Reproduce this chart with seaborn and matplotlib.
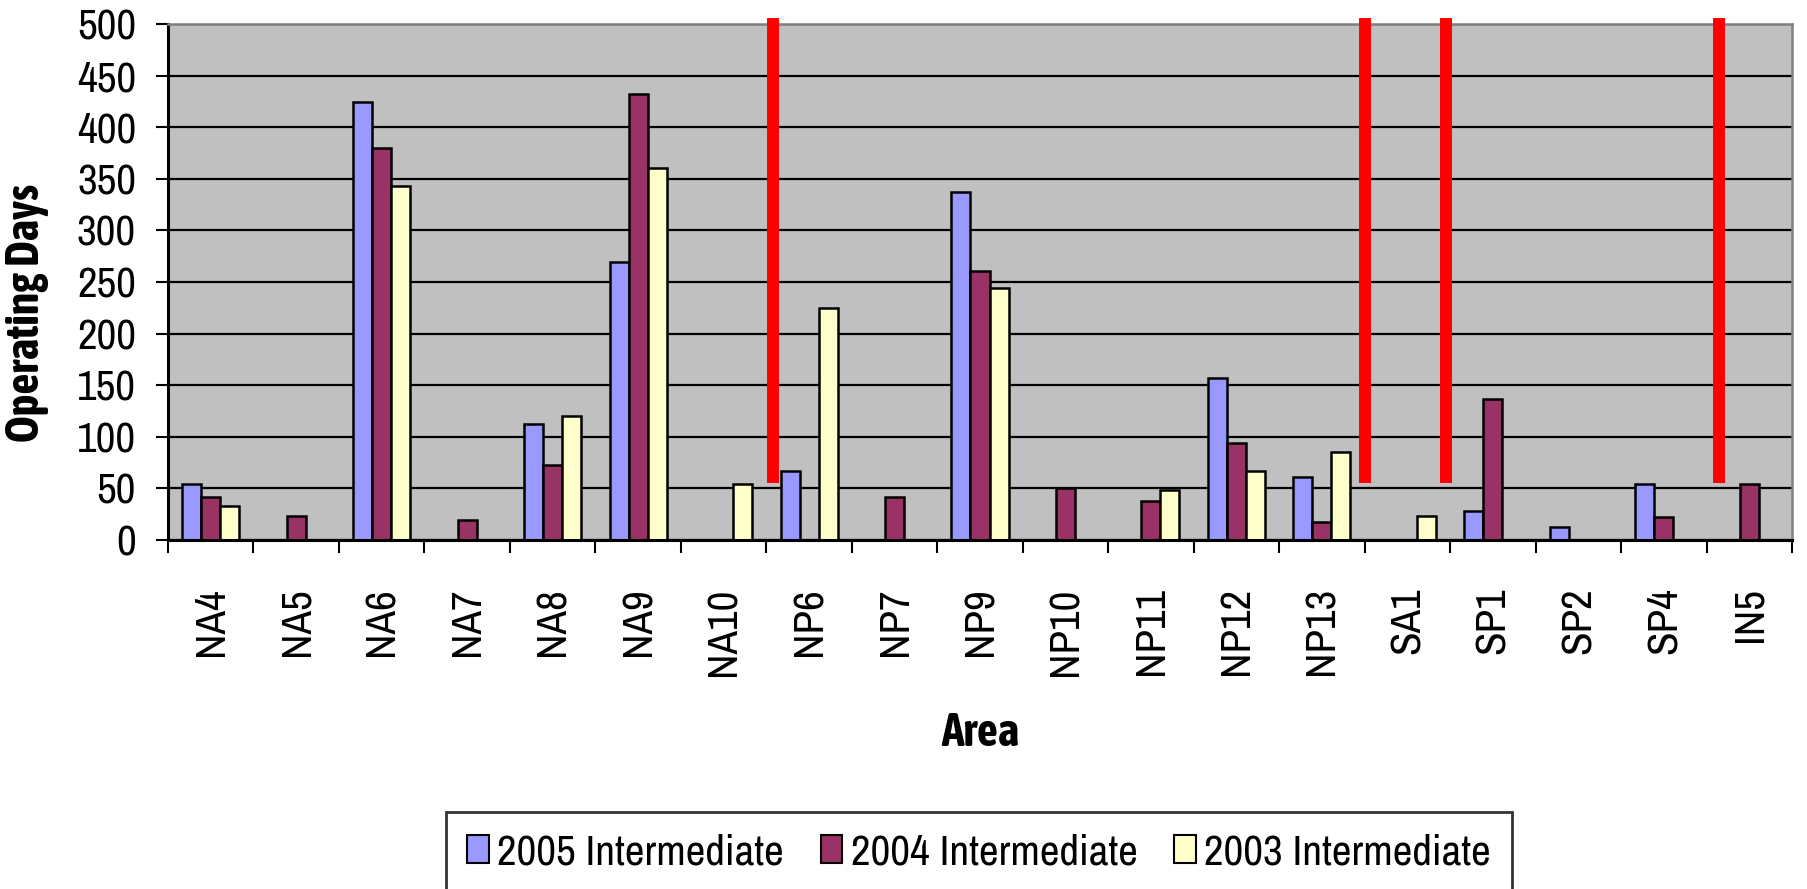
import numpy as np
import pandas as pd
import matplotlib
matplotlib.use("Agg")
import matplotlib.pyplot as plt
from matplotlib import font_manager as fm
from matplotlib.patches import Patch
import seaborn as sns

nan = np.nan
areas = ['NA4', 'NA5', 'NA6', 'NA7', 'NA8', 'NA9', 'NA10', 'NP6', 'NP7', 'NP9',
         'NP10', 'NP11', 'NP12', 'NP13', 'SA1', 'SP1', 'SP2', 'SP4', 'IN5']
series_names = ['2005 Intermediate', '2004 Intermediate', '2003 Intermediate']
days_2005 = [54, nan, 424, nan, 112, 269, nan, 67, nan, 337, nan, nan, 157, 61, nan, 28, 13, 54, nan]
days_2004 = [42, 23, 380, 19, 73, 432, nan, nan, 42, 261, 50, 38, 94, 17, nan, 137, nan, 22, 54]
days_2003 = [33, nan, 343, nan, 120, 360, 54, 225, nan, 244, nan, 48, 67, 85, 23, nan, nan, nan, nan]
colors = ['#9999FF', '#993366', '#FFFFCC']
dividers = [6.58, 13.51, 14.45, 17.65]
divider_span = [55, 506]

rows = []
for name, vals in zip(series_names, [days_2005, days_2004, days_2003]):
    for a, v in zip(areas, vals):
        if not np.isnan(v):
            rows.append({'Area': a, 'Days': v, 'Series': name})
df = pd.DataFrame(rows)


def weight_num(w):
    try:
        return int(w)
    except (TypeError, ValueError):
        return {'bold': 700, 'heavy': 800, 'black': 900, 'semibold': 600,
                'demibold': 600, 'extra bold': 800}.get(str(w).lower(), 400)


narrow_fams = {}
for f in fm.fontManager.ttflist:
    if 'Narrow' in f.name or 'Condensed' in f.name:
        narrow_fams.setdefault(f.name, set()).add(weight_num(f.weight))

narrow = None
narrow_bold = None
bold_w = 700
for name, ws in sorted(narrow_fams.items()):
    if narrow is None and 400 in ws:
        narrow = name
for name, ws in sorted(narrow_fams.items()):
    good = [w for w in ws if 600 <= w <= 750]
    if good:
        narrow_bold = name
        bold_w = max(good)
        break

if narrow is not None:
    text_fam = [narrow, 'DejaVu Sans']
    fs = 31
else:
    text_fam = ['Liberation Sans', 'DejaVu Sans']
    fs = 26
if narrow_bold is not None:
    bold_fam = [narrow_bold, 'DejaVu Sans']
    fsb = 33
else:
    bold_fam = ['Liberation Sans', 'DejaVu Sans']
    fsb = 28
    bold_w = 'bold'
plt.rcParams['font.family'] = text_fam

W, H = 1807, 889
fig = plt.figure(figsize=(W / 100, H / 100), dpi=100)
L, R, T, B = 168, 1792, 24, 540
ax = fig.add_axes([L / W, 1 - B / H, (R - L) / W, (B - T) / H])
ax.set_facecolor('#C0C0C0')

sns.barplot(data=df, x='Area', y='Days', hue='Series', order=areas, hue_order=series_names,
            palette=dict(zip(series_names, colors)), width=0.667, edgecolor='black',
            linewidth=1.8, saturation=1, errorbar=None, legend=False, ax=ax)

ax.set_xlim(-0.5, len(areas) - 0.5)
ax.set_ylim(0, 500)
ax.set_yticks(np.arange(0, 501, 50))
ax.yaxis.grid(True, color='black', linewidth=1.6)
ax.set_axisbelow(True)

ax.set_xticks(np.arange(-0.5, len(areas) + 0.5, 1))
ax.set_xticklabels([])
ax.set_xticks(np.arange(len(areas)), minor=True)
ax.set_xticklabels(areas, minor=True, rotation=90, fontsize=fs)
ax.tick_params(axis='x', which='major', length=9, width=1.5, direction='out')
ax.tick_params(axis='x', which='minor', length=0, pad=34)
ax.tick_params(axis='y', length=9, width=1.5, labelsize=fs, pad=14)

for s in ['left', 'bottom']:
    ax.spines[s].set_color('black')
    ax.spines[s].set_linewidth(2.2)
for s in ['top', 'right']:
    ax.spines[s].set_color('#808080')
    ax.spines[s].set_linewidth(1.8)

for xd in dividers:
    ax.plot([xd, xd], divider_span, color='#FF0000', linewidth=8.6,
            solid_capstyle='butt', clip_on=False, zorder=5)

ax.set_xlabel('')
ax.set_ylabel('Operating Days', fontsize=fsb, fontweight=bold_w, family=bold_fam)
ax.yaxis.set_label_coords(-0.0733, 0.44)
fig.text((L + R) / 2 / W, 1 - 733 / H, 'Area', fontsize=fsb, fontweight=bold_w,
         family=bold_fam, ha='center', va='center')

handles = [Patch(facecolor=c, edgecolor='black', linewidth=1.5) for c in colors]
leg = fig.legend(handles, series_names, loc='upper center', ncol=3,
                 bbox_to_anchor=(979 / W, 1 - 812 / H), fontsize=fs,
                 frameon=True, fancybox=False, edgecolor='black',
                 handlelength=0.5, handleheight=0.62, handletextpad=0.2,
                 columnspacing=0.85, borderpad=0.5, borderaxespad=0)
leg.get_frame().set_linewidth(2)

fig.savefig('out.png', dpi=100)
